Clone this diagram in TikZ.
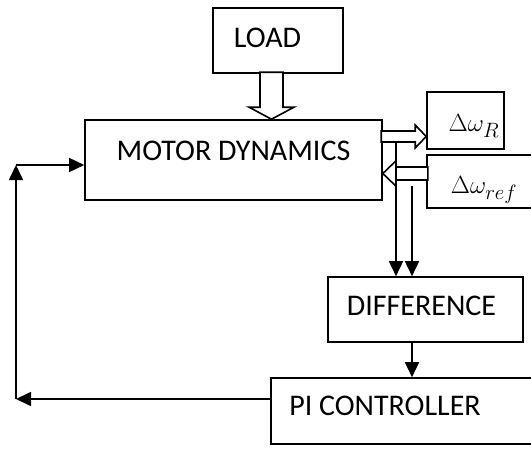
\documentclass[tikz,border=0pt]{standalone}
\usepackage{fontspec}
\setmainfont{Carlito}
\usetikzlibrary{arrows.meta,positioning}
\tikzstyle{block}=[rectangle, draw, line width=1.6pt, inner sep=0pt, font=\fontsize{30}{34}\selectfont]
\tikzstyle{hollow}=[draw, line width=1.6pt, fill=white, line join=miter]
\tikzstyle{line}=[line width=1.6pt, -{Triangle[length=15pt,width=14pt]}]
% text inside a box, moved by dx (right) and raised by dy, baseline at the box centre
\newcommand{\shifttext}[3]{\raisebox{#2}[0pt][0pt]{\makebox[0pt]{\kern#1\relax #3\kern-#1\relax}}}

\begin{document}
\begin{tikzpicture}[x=1pt,y=-1pt]
\useasboundingbox (0,0) rectangle (531,448);
\clip (0,0) rectangle (531,448);

\node[block, minimum width=130, minimum height=65] (load) at (278,40.5) {\shifttext{-10.5pt}{-6.5pt}{LOAD}};
\node[block, minimum width=297, minimum height=80] (motor) at (233.5,160) {\shifttext{0pt}{0pt}{MOTOR DYNAMICS}};
\node[block, minimum width=77, minimum height=57] (wR) at (465.5,120.5) {\shifttext{8.5pt}{-11pt}{$\Delta\omega_{R}$}};
\node[block, minimum width=120, minimum height=53] (wref) at (487,181.5) {\shifttext{-3pt}{-12pt}{$\Delta\omega_{ref}$}};
\node[block, minimum width=195, minimum height=65] (diff) at (425.5,309.5) {\shifttext{-4pt}{-5.5pt}{DIFFERENCE}};
\node[block, minimum width=289, minimum height=66] (pi) at (415.5,411) {\shifttext{-30.5pt}{-4pt}{PI CONTROLLER}};

\coordinate (loadtip) at ([xshift=-6.5pt]load.south |- motor.north);
\coordinate (outtip) at (wR.west |- 0,136.5);
\coordinate (intip) at (motor.east |- 0,173.5);
\coordinate (b1) at (396,142);
\coordinate (b2) at (412,186);
\coordinate (d1) at (diff.south -| b2);
\coordinate (fb) at (pi.west |- 0,399);
\coordinate (low) at (16,399);
\coordinate (up) at (16,165);

% hollow arrows
\draw[hollow] (loadtip) -- ++(-22.5,-12) -- ++(11,0) -- ++(0,-35) -- ++(23,0) -- ++(0,35) -- ++(11,0) -- cycle;
\draw[hollow] (outtip) -- ++(-11,-11.5) -- ++(0,6) -- ++(-34,0) -- ++(0,11) -- ++(34,0) -- ++(0,6) -- cycle;
\draw[hollow] (intip) -- ++(13,-12.5) -- ++(0,6) -- ++(32,0) -- ++(0,13) -- ++(-32,0) -- ++(0,6) -- cycle;

\draw[line] (b1) -- (b1 |- diff.north);
\draw[line] (b2) -- (b2 |- diff.north);
\draw[line] (d1) -- (d1 |- pi.north);
\draw[line] (fb) -- (low);
\draw[line] (low) -- (up);
\draw[line] (up) -- (up -| motor.west);

\end{tikzpicture}
\end{document}
